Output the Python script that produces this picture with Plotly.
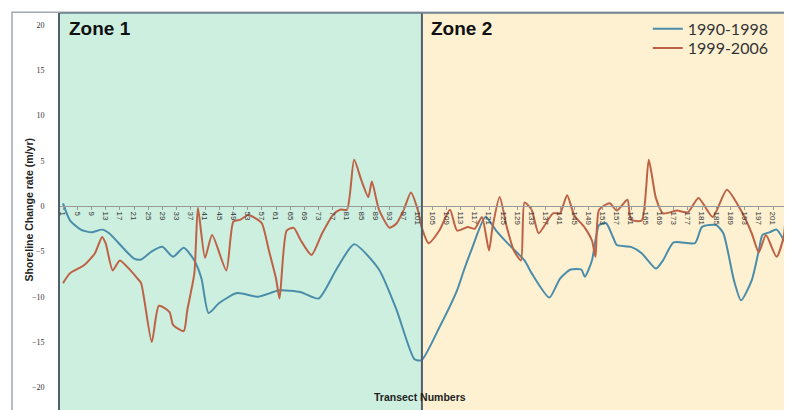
import plotly.graph_objects as go

# Transect positions and values (1990-1998)
blue_t = [1, 3, 6, 9, 12, 14, 21, 23, 26, 29, 32, 35, 38, 40, 42, 45, 50, 56, 62, 68, 73, 78, 83,
          90, 95, 100, 102, 107, 112, 114, 116, 120, 123, 126, 131, 133, 138, 141, 144, 147, 148,
          150, 152, 154, 156, 157, 161, 164, 168, 170, 173, 179, 181, 185, 187, 190, 192, 195,
          197, 198, 200, 202, 205, 206]
blue_v = [0.3, -1.6, -2.6, -2.9, -2.6, -3.0, -5.8, -5.9, -5.0, -4.5, -5.6, -4.6, -6.0, -8.0, -11.8,
          -10.7, -9.6, -10.0, -9.3, -9.5, -10.2, -7.0, -4.2, -7.0, -11.5, -16.9, -17.0, -13.4,
          -9.3, -7.0, -4.9, -1.2, -2.7, -4.0, -6.0, -7.4, -10.1, -8.0, -7.0, -7.0, -7.8, -6.0,
          -2.1, -1.9, -3.5, -4.3, -4.5, -5.2, -6.9, -6.0, -4.0, -4.1, -2.3, -2.1, -3.0, -8.2,
          -10.4, -8.2, -4.9, -3.2, -2.9, -2.6, -4.5, -6.0]

# 1999-2006
red_t = [1, 3, 7, 10, 12, 13, 15, 17, 20, 22, 23, 26, 28, 31, 32, 35, 36, 38, 39, 41, 43, 47, 49,
         51, 53, 55, 57, 59, 61, 62, 64, 66, 68, 71, 74, 77, 79, 81, 83, 85, 87, 88, 90, 93, 95,
         97, 99, 101, 102, 104, 107, 110, 112, 115, 117, 119, 121, 122, 124, 126, 128, 130, 131,
         133, 135, 139, 141, 143, 145, 148, 150, 151, 152, 155, 157, 160, 161, 164, 166, 168,
         170, 174, 177, 180, 184, 188, 192, 195, 197, 199, 202, 204, 205, 206]
red_v = [-8.5, -7.4, -6.5, -5.2, -3.4, -4.1, -7.1, -6.0, -7.1, -8.0, -8.5, -15.0, -11.0, -11.7,
         -13.1, -13.8, -11.5, -7.4, -0.2, -5.7, -3.2, -7.1, -1.7, -1.5, -1.0, -1.3, -1.9, -4.9,
         -8.0, -10.2, -2.7, -2.4, -3.8, -5.4, -3.0, -1.0, -0.4, -0.4, 5.1, 2.9, 1.0, 2.7, -0.4,
         -2.4, -1.9, -0.4, 1.5, -0.5, -2.3, -4.1, -2.7, -0.4, -2.7, -2.3, -2.5, -1.2, -4.9, -2.3,
         1.0, -2.3, -4.9, -6.0, 0.4, -0.4, -3.0, -0.8, -0.8, 1.2, -1.0, -2.4, -3.8, -5.6, -0.4,
         0.3, -0.5, 0.7, -1.5, -1.6, 5.1, 0.9, -0.8, -0.5, -0.7, 0.9, -1.2, 1.8, -0.5, -3.0,
         -5.1, -3.2, -5.6, -3.4, -0.4, -0.4]

tick_vals = list(range(1, 206, 4))
tick_text = [str(v) for v in tick_vals]
y_ticks = [-20, -15, -10, -5, 0, 5, 10, 15, 20]
zone_split = 102.1
x_range = [0.15, 206.35]
y_range = [-22.5, 21.3]

fig = go.Figure()
fig.add_trace(go.Scatter(x=blue_t, y=blue_v, mode="lines", name="1990-1998", legend="legend",
                         line=dict(color="#4A8DAA", width=2, shape="spline", smoothing=0.6)))
fig.add_trace(go.Scatter(x=red_t, y=red_v, mode="lines", name="1999-2006", legend="legend2",
                         line=dict(color="#BE6246", width=2, shape="spline", smoothing=0.6)))

# zone backgrounds
fig.add_shape(type="rect", xref="x", yref="paper", x0=x_range[0], x1=zone_split, y0=0, y1=1,
              fillcolor="#CDEFE0", line_width=0, layer="below")
fig.add_shape(type="rect", xref="x", yref="paper", x0=zone_split, x1=x_range[1], y0=0, y1=1,
              fillcolor="#FEF1D2", line_width=0, layer="below")
# zone divider
fig.add_shape(type="line", xref="x", yref="paper", x0=zone_split, x1=zone_split, y0=0, y1=1,
              line=dict(color="#4F5F6E", width=2))
# outer frame
fig.add_shape(type="rect", xref="paper", yref="paper", x0=-0.0656, x1=1.02, y0=-0.1, y1=1.002,
              line=dict(color="#A0A8B0", width=1.5), layer="above")
# plot top border
fig.add_shape(type="line", xref="paper", yref="paper", x0=0, x1=1, y0=1, y1=1,
              line=dict(color="#6A7C8C", width=1.5))

fig.add_annotation(text="<b>Zone 1</b>", xref="paper", yref="paper", x=0.01, y=0.961,
                   xanchor="left", yanchor="middle", showarrow=False,
                   font=dict(family="Liberation Sans", size=19, color="#111111"))
fig.add_annotation(text="<b>Zone 2</b>", xref="x", yref="paper", x=zone_split + 2, y=0.961,
                   xanchor="left", yanchor="middle", showarrow=False,
                   font=dict(family="Liberation Sans", size=19, color="#111111"))
fig.add_annotation(text="<b>Shoreline Change rate (m/yr)</b>", xref="paper", yref="paper",
                   x=-0.0546, y=0.505, textangle=-90, showarrow=False,
                   font=dict(family="Liberation Sans", size=10.5, color="#222222"))
fig.add_annotation(text="<b>Transect Numbers</b>", xref="paper", yref="paper",
                   x=0.492, y=0.013, showarrow=False,
                   font=dict(family="Liberation Sans", size=10.5, color="#222222"))

legend_font = dict(family="Lato", size=16, color="#333333")
# page has an 8px body margin; margins compensate so the plot area sits at 60..792 x 13..410
fig.update_layout(
    width=784, height=402,
    margin=dict(l=52, r=0, t=5, b=0, autoexpand=False),
    paper_bgcolor="white", plot_bgcolor="white",
    showlegend=True,
    legend=dict(x=0.803, y=1.003, xanchor="left", yanchor="top", bgcolor="rgba(0,0,0,0)",
                font=legend_font, itemwidth=30),
    legend2=dict(x=0.803, y=0.9547, xanchor="left", yanchor="top", bgcolor="rgba(0,0,0,0)",
                 font=legend_font, itemwidth=30),
    xaxis=dict(range=x_range, tickmode="array", tickvals=tick_vals, ticktext=tick_text,
               tickangle=90, anchor="free", position=0.514, showline=True,
               linecolor="#9A9A9A", linewidth=1, ticks="outside", ticklen=3,
               tickcolor="#9A9A9A", showgrid=False, zeroline=False, automargin=False,
               tickfont=dict(family="Liberation Sans", size=8, color="#333333")),
    yaxis=dict(range=y_range, tickmode="array", tickvals=y_ticks, showgrid=False,
               zeroline=False, showline=True, linecolor="#4F5F6E", linewidth=2,
               ticks="", ticklabelstandoff=12, automargin=False,
               tickfont=dict(family="Liberation Serif", size=8, color="#333333")),
)

fig.write_html("out.html")
